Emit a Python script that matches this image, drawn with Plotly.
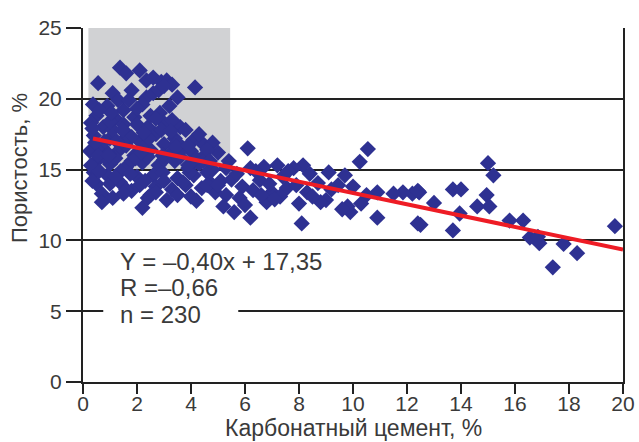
import plotly.graph_objects as go

# ---- data ----
# left dense cluster
x_left = [0.56,0.37,1.1,1.37,1.6,2.1,2.35,2.6,2.9,3.1,3.3,3.5,4.15,2.35,1.8,0.9,1.5,1.9,2.2,2.6,
          2.85,3.2,3.6,3.0,2.4,1.2,0.75,0.5,0.3,1.6,2.7,3.4,3.8,4.1,4.4,4.8,1.0,0.4,2.1,3.0,
          3.7,0.7,1.3,1.9,2.5,3.2,4.0,4.5,5.0,5.4,0.26,0.5,1.0,1.6,2.2,2.8,3.4,3.9,4.3,4.8,
          5.3,0.4,0.9,1.4,2.0,2.6,2.95,3.5,4.1,4.6,5.1,5.5,0.5,1.37,2.1,1.8,2.7,3.3,3.8,4.4,
          4.9,5.3,0.7,1.1,3.1,0.7,2.2,5.2,4.0,2.5,1.6,1.3,1.7,2.0,2.8,3.0,2.5,1.5,1.1,0.8,
          1.8,2.3,2.9,3.3,0.6,1.0,2.0,3.5,1.6,1.2,2.4,3.0,1.8,3.6,4.2,0.3,0.8,2.3,1.0,3.0,
          4.7,3.7,0.45,1.45,2.45,3.45,0.95,1.95,2.95,3.95,4.45,0.6,1.2,2.7,3.9,4.6,5.0,0.35,1.75,2.15,
          1.25,3.9,4.3,4.6,0.55,0.35,1.5,2.4,3.5,4.2,1.05,2.7,3.25,2.25,1.45,0.95,4.7]
y_left = [21.1,19.6,20.4,22.2,21.8,22.0,21.3,21.5,21.2,21.3,21.0,20.1,20.8,20.1,20.6,19.5,19.2,18.7,19.6,20.4,
          19.0,19.5,18.0,18.3,18.0,18.6,18.0,18.8,18.3,17.6,17.5,17.2,17.8,17.1,16.9,16.9,17.2,17.4,17.0,16.8,
          16.5,16.6,16.3,16.0,16.4,16.1,16.3,16.0,16.2,15.6,16.3,15.6,15.4,15.2,15.5,15.3,15.6,15.1,15.4,15.0,
          15.1,14.8,14.6,14.9,14.5,14.6,14.8,14.4,14.6,14.8,14.2,14.3,14.0,14.1,13.9,13.5,13.8,13.6,13.9,13.7,
          13.4,13.2,13.3,13.0,12.85,12.7,12.3,12.4,13.1,13.2,13.6,19.9,19.9,19.3,20.6,20.9,18.8,18.2,17.8,17.0,
          17.3,16.7,17.8,18.5,19.2,18.4,18.2,16.9,16.7,15.8,15.9,15.7,15.6,15.9,15.8,15.3,15.9,14.2,14.0,14.2,
          14.1,14.1,16.9,17.0,17.2,16.6,16.1,15.8,16.0,14.8,15.6,14.9,14.5,13.4,15.3,13.9,13.9,17.9,14.7,16.2,
          17.0,16.7,17.5,16.4,16.0,14.2,13.3,13.0,13.2,12.8,19.0,18.6,17.7,17.6,17.8,16.0,15.6]
# middle part
x_mid = [6.1,10.55,10.25,10.9,10.9,9.9,9.8,10.5,9.1,9.7,8.15,7.2,6.7,7.8,8.1,6.2,9.0,8.0,6.8,8.7,
         9.45,5.9,6.3,7.0,7.55,8.3,7.3,6.55,7.4,8.8,5.7,5.8,6.0,6.4,6.6,6.9,7.1,7.6,7.9,8.4,
         8.5,9.2,9.6,10.0,10.3,5.6,6.2]
y_mid = [16.5,16.45,15.55,13.4,11.6,12.0,12.4,13.2,14.8,14.6,15.3,15.3,15.2,15.1,11.2,11.6,12.85,12.6,12.7,14.05,
         13.9,13.8,13.55,13.4,13.7,13.4,13.1,14.25,14.5,12.7,14.7,13.0,12.5,14.9,13.2,14.0,12.9,14.9,13.9,14.7,
         13.1,13.6,12.2,13.8,12.6,12.0,15.1]
# right part
x_right = [19.7,17.4,18.3,17.8,16.9,16.55,16.85,16.3,15.8,15.0,15.2,14.95,15.05,14.6,13.95,13.7,13.7,14.0,13.0,12.5,
           12.45,12.2,11.85,11.5,12.4,12.4]
y_right = [11.0,8.1,9.1,9.75,9.8,10.2,10.25,11.4,11.4,15.45,14.6,13.2,12.4,12.4,11.9,10.7,13.6,13.6,12.65,11.1,
           13.4,13.3,13.4,13.3,13.5,11.2]

x_pts = x_left + x_mid + x_right
y_pts = y_left + y_mid + y_right

slope, intercept = -0.40, 17.35
line_x = [0.37, 20]
line_y = [intercept + slope * v for v in line_x]

stats_lines = ["Y = –0,40x + 17,35", "R =–0,66", "n = 230"]
stats_y = [8.5, 6.65, 4.75]
x_title = "Карбонатный цемент, %"
y_title = "Пористость, %"
x_ticks = [0, 2, 4, 6, 8, 10, 12, 14, 16, 18, 20]
y_ticks = [0, 5, 10, 15, 20, 25]

FONT = "Liberation Sans, Arial, sans-serif"
INK = "#3a3a3a"

fig = go.Figure()
fig.add_trace(go.Scatter(x=x_pts, y=y_pts, mode="markers",
                         marker=dict(symbol="diamond", size=12.5, color="#2e3192",
                                     line=dict(width=0)),
                         hoverinfo="x+y", showlegend=False))
fig.add_trace(go.Scatter(x=line_x, y=line_y, mode="lines",
                         line=dict(color="#ee1c25", width=4), showlegend=False))

# gray highlighted area
fig.add_shape(type="rect", xref="x", yref="y", x0=0.2, x1=5.45, y0=15, y1=25,
              fillcolor="#d1d2d4", line=dict(width=0), layer="below")
# white box behind stats text
fig.add_shape(type="rect", xref="x", yref="y", x0=0.75, x1=5.75, y0=3.6, y1=9.8,
              fillcolor="white", line=dict(width=0), layer="above")

for txt, yy in zip(stats_lines, stats_y):
    fig.add_annotation(xref="x", yref="y", x=1.3, y=yy, xanchor="left", yanchor="middle",
                       text=txt, showarrow=False, align="left",
                       font=dict(family=FONT, size=24, color=INK))

# axis titles as annotations (placed in pixels relative to plot area)
fig.add_annotation(xref="paper", yref="paper", x=0.5, y=0, xanchor="center", yanchor="middle",
                   yshift=-46, text=x_title, showarrow=False,
                   font=dict(family=FONT, size=23, color=INK))
fig.add_annotation(xref="paper", yref="paper", x=0, y=0.5, xanchor="center", yanchor="middle",
                   xshift=-64, yshift=37, textangle=-90, text=y_title, showarrow=False,
                   font=dict(family=FONT, size=22, color=INK))

fig.update_layout(
    width=639, height=442,
    margin=dict(l=83, r=16, t=28, b=60, autoexpand=False),
    plot_bgcolor="white", paper_bgcolor="white",
    font=dict(family=FONT, size=21, color=INK),
    xaxis=dict(range=[0, 20], tickvals=x_ticks, ticks="outside", ticklen=10, tickwidth=2,
               tickcolor="#222", showline=True, linecolor="#222", linewidth=2,
               showgrid=False, zeroline=False, automargin=False, ticklabelstandoff=-8,
               tickfont=dict(size=21)),
    yaxis=dict(range=[0, 25], tickvals=y_ticks, ticks="outside", ticklen=15, tickwidth=2,
               tickcolor="#222", showline=True, linecolor="#222", linewidth=2, mirror=True,
               showgrid=True, gridcolor="#222", gridwidth=2, zeroline=False, automargin=False,
               tickfont=dict(size=21)),
)

fig.write_html("out.html", post_script="document.body.style.margin='0';",
               config={"displayModeBar": False})
